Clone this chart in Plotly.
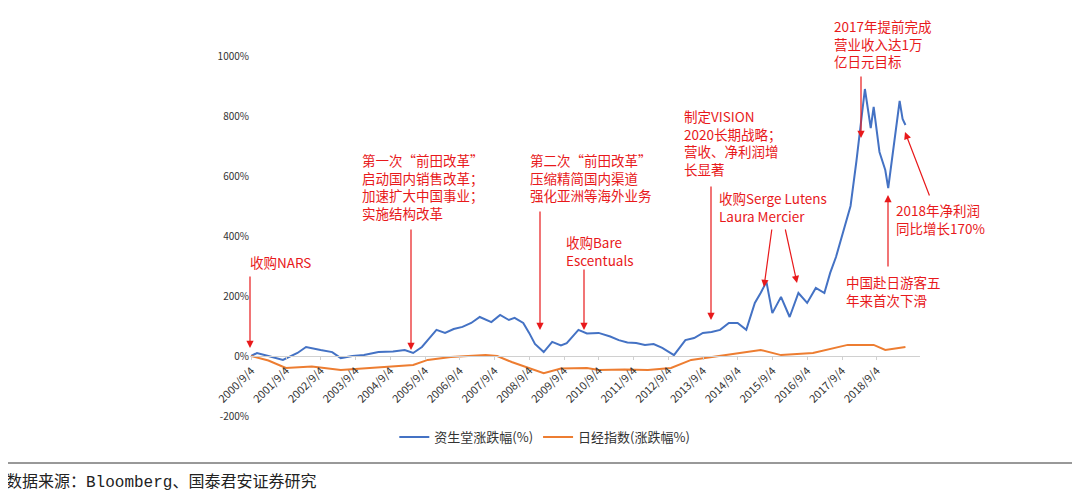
import plotly.graph_objects as go

# 资生堂 cumulative change (%)
shiseido_dates = ["2000-09", "2000-11", "2001-03", "2001-08", "2002-01", "2002-04", "2002-09", "2003-01",
                  "2003-04", "2003-08", "2003-12", "2004-05", "2004-10", "2005-02", "2005-05", "2005-08",
                  "2005-10", "2006-01", "2006-04", "2006-07", "2006-10", "2007-01", "2007-04", "2007-08",
                  "2007-11", "2008-02", "2008-04", "2008-07", "2008-09", "2008-11", "2009-02", "2009-05",
                  "2009-08", "2009-10", "2010-02", "2010-05", "2010-09", "2011-01", "2011-04", "2011-07",
                  "2011-10", "2012-01", "2012-04", "2012-07", "2012-11", "2013-03", "2013-06", "2013-09",
                  "2013-12", "2014-03", "2014-06", "2014-09", "2014-12", "2015-03", "2015-05", "2015-07",
                  "2015-09", "2015-12", "2016-03", "2016-06", "2016-09", "2016-12", "2017-03", "2017-05",
                  "2017-07", "2017-09", "2017-12", "2018-02", "2018-04", "2018-05", "2018-07", "2018-08",
                  "2018-10", "2018-12", "2019-01", "2019-03", "2019-05", "2019-06", "2019-07"]
shiseido_pct = [0, 10, 0, -13, 10, 30, 20, 13, -7, 0, 3, 13, 15, 20, 10, 30,
                53, 87, 77, 90, 97, 110, 130, 113, 137, 120, 127, 110, 77, 40, 13, 47,
                35, 43, 87, 75, 77, 65, 53, 45, 43, 37, 40, 27, 3, 53, 60, 77,
                80, 87, 110, 110, 87, 177, 210, 247, 143, 197, 130, 210, 177, 227, 210, 277,
                330, 400, 500, 650, 800, 890, 760, 830, 680, 620, 560, 700, 850, 790, 770]

# 日经指数 cumulative change (%)
nikkei_dates = ["2000-09", "2001-03", "2001-09", "2002-06", "2003-04", "2004-01", "2004-09", "2005-05",
                "2005-10", "2006-06", "2007-06", "2007-10", "2008-03", "2008-09", "2009-02", "2009-08",
                "2010-05", "2010-09", "2011-06", "2012-02", "2012-10", "2013-05", "2014-04", "2015-05",
                "2015-12", "2016-11", "2017-11", "2018-08", "2018-12", "2019-07"]
nikkei_pct = [0, -15, -40, -35, -47, -40, -35, -30, -13, -3, 3, 0, -20, -40, -57, -42,
              -40, -47, -45, -47, -40, -13, 3, 20, 3, 10, 37, 37, 20, 30]

tick_dates = [f"{y}-09-04" for y in range(2000, 2019)]
tick_text = [f"{y}/9/4" for y in range(2000, 2019)]
y_ticks = list(range(-200, 1001, 200))
y_text = [f"{v}%" for v in y_ticks]

RED = "#e8191b"
CJK = "Noto Sans CJK SC"

fig = go.Figure()
fig.add_trace(go.Scatter(x=shiseido_dates, y=shiseido_pct, mode="lines", name="资生堂涨跌幅(%)",
                         line=dict(color="#4472c4", width=2)))
fig.add_trace(go.Scatter(x=nikkei_dates, y=nikkei_pct, mode="lines", name="日经指数(涨跌幅%)",
                         line=dict(color="#ed7d31", width=2)))

# page has an 8px body margin, so reference pixels are offset by 8
OFF = 8
W0, PW, B0, PH = 250, 670, 416, 360


def px(x):
    return (x - W0) / PW


def py(y):
    return (B0 - y) / PH


# text blocks (left, top in reference pixels)
notes = [
    ("收购NARS", 248, 250),
    ("第一次“前田改革”<br>启动国内销售改革；<br>加速扩大中国事业；<br>实施结构改革", 360, 148),
    ("第二次“前田改革”<br>压缩精简国内渠道<br>强化亚洲等海外业务", 528, 148),
    ("收购Bare<br>Escentuals", 564, 230),
    ("制定VISION<br>2020长期战略；<br>营收、净利润增<br>长显著", 682, 104),
    ("收购Serge Lutens<br>Laura Mercier", 717, 186),
    ("2017年提前完成<br>营业收入达1万<br>亿日元目标", 832, 14),
    ("2018年净利润<br>同比增长170%", 894, 198),
    ("中国赴日游客五<br>年来首次下滑", 844, 270),
]
for txt, l, t in notes:
    fig.add_annotation(text=txt, x=px(l), y=py(t), xref="paper", yref="paper",
                       xanchor="left", yanchor="top", align="left", showarrow=False,
                       font=dict(family=CJK, size=13.5, color=RED))

# arrows: (tail x, tail y, head x, head y) in reference pixels
arrows = [(250, 275, 250, 348), (411, 228, 411, 350), (540, 210, 540, 330), (584, 268, 584, 330),
          (711, 185, 711, 320), (772, 228, 764, 287), (785, 228, 797, 283), (861, 75, 861, 138),
          (930, 197, 905, 132), (888, 268, 888, 195)]
for tx, ty, hx, hy in arrows:
    fig.add_annotation(x=px(hx), y=py(hy), xref="paper", yref="paper", ax=tx - hx, ay=ty - hy,
                       text="", showarrow=True, arrowhead=2, arrowsize=1.2, arrowwidth=1.2,
                       arrowcolor=RED)

fig.add_annotation(text="数据来源：Bloomberg、国泰君安证券研究", x=px(4), y=py(482), xref="paper",
                   yref="paper", xanchor="left", yanchor="middle", showarrow=False,
                   font=dict(family="Liberation Mono, " + CJK, size=16, color="#222"))
fig.add_shape(type="line", xref="paper", yref="paper", x0=px(-20), x1=px(1100), y0=py(463), y1=py(463),
              line=dict(color="#333", width=1))
fig.add_shape(type="line", xref="paper", yref="paper", x0=px(-20), x1=px(1100), y0=py(3), y1=py(3),
              line=dict(color="#333", width=1))

fig.update_layout(
    width=1080, height=494, plot_bgcolor="white", paper_bgcolor="white",
    margin=dict(l=250 - OFF, r=160 + OFF, t=56 - OFF, b=78 + OFF),
    font=dict(family=CJK, color="#333"),
    legend=dict(orientation="h", x=0.44, xanchor="center", y=py(437), yanchor="middle",
                font=dict(size=13), traceorder="normal"),
    xaxis=dict(type="date", range=["2000-08-20", "2019-12-01"], tickvals=tick_dates, ticktext=tick_text,
               tickangle=-45, tickfont=dict(size=11), showgrid=False, showline=True, linecolor="#d0d0d0",
               ticks="outside", ticklen=3, tickcolor="#d0d0d0", anchor="free", position=1 / 6),
    yaxis=dict(range=[-200, 1000], tickvals=y_ticks, ticktext=y_text,
               tickfont=dict(size=10), showgrid=False, zeroline=False, domain=[0, 1]),
)

fig.write_html("out.html")
